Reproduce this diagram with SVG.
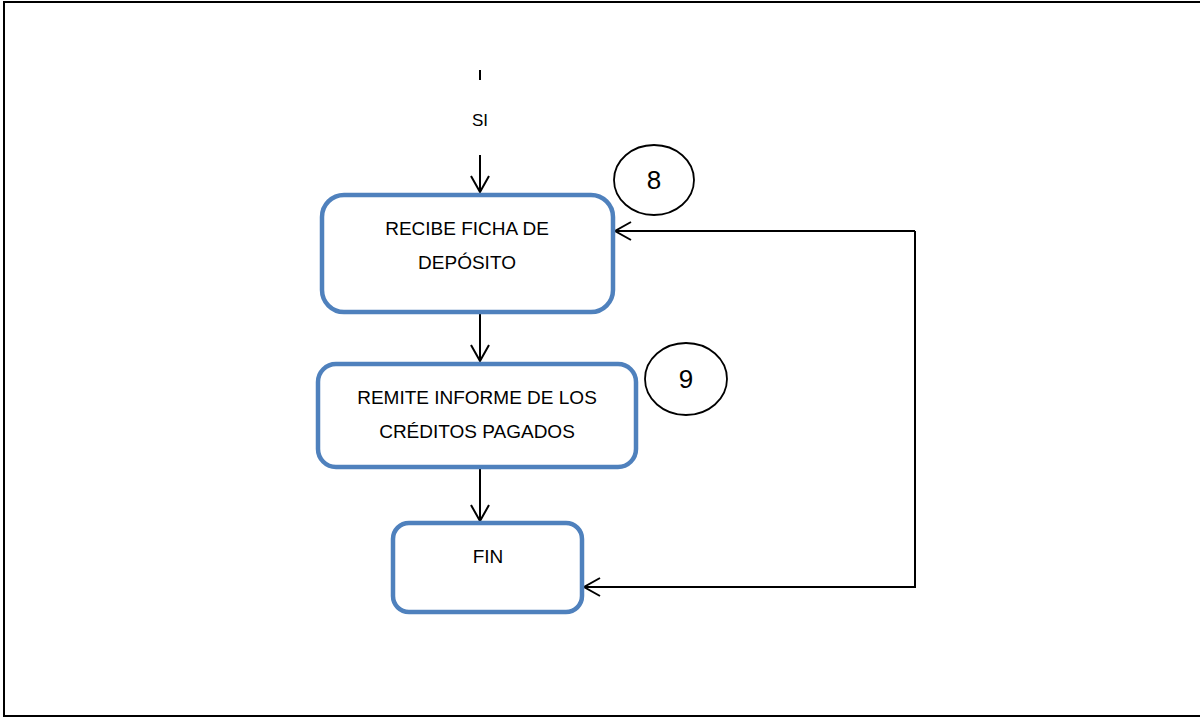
<svg xmlns="http://www.w3.org/2000/svg" width="1200" height="719" viewBox="0 0 1200 719">
  <defs>
    <style>
      .frame { fill: none; stroke: #000; stroke-width: 2; }
      .step { fill: #fff; stroke: #4f81bd; stroke-width: 4.5; }
      .badge { fill: #fff; stroke: #000; stroke-width: 1.8; }
      .lbl { font-family: "Liberation Sans", Arial, sans-serif; font-size: 19px; fill: #000; text-anchor: middle; }
      .num { font-family: "Liberation Sans", Arial, sans-serif; font-size: 26px; fill: #000; text-anchor: middle; }
      .wire { fill: none; stroke: #000; stroke-width: 2; }
    </style>
    <marker id="arrow" viewBox="0 0 20 20" refX="18" refY="10" markerWidth="20" markerHeight="20" markerUnits="userSpaceOnUse" orient="auto">
      <path d="M2,1 L18,10 L2,19" fill="none" stroke="#000" stroke-width="2"/>
    </marker>
  </defs>

  <rect id="page" class="frame" x="4" y="2" width="1210" height="714"/>

  <g id="connectors">
    <line class="wire" x1="480" y1="70" x2="480" y2="80"/>
    <text class="lbl" x="480" y="126" style="font-size:17px">SI</text>
    <line class="wire" x1="480" y1="155" x2="480" y2="192" marker-end="url(#arrow)"/>
    <line class="wire" x1="480" y1="313" x2="480" y2="361" marker-end="url(#arrow)"/>
    <line class="wire" x1="480" y1="469" x2="480" y2="521" marker-end="url(#arrow)"/>
    <polyline class="wire" points="915,231 915,587 584,587" marker-end="url(#arrow)"/>
    <line class="wire" x1="915" y1="231" x2="615" y2="231" marker-end="url(#arrow)"/>
  </g>

  <g id="recibe">
    <rect class="step" x="322" y="195" width="291" height="117" rx="22"/>
    <text class="lbl" x="467" y="235">RECIBE FICHA DE</text>
    <text class="lbl" x="467" y="269">DEPÓSITO</text>
  </g>

  <g id="badge8">
    <ellipse class="badge" cx="654" cy="180" rx="40" ry="35"/>
    <text class="num" x="654" y="189">8</text>
  </g>

  <g id="remite">
    <rect class="step" x="318" y="364" width="318" height="103" rx="18"/>
    <text class="lbl" x="477" y="404">REMITE INFORME DE LOS</text>
    <text class="lbl" x="477" y="438">CRÉDITOS PAGADOS</text>
  </g>

  <g id="badge9">
    <ellipse class="badge" cx="686" cy="379" rx="41" ry="36"/>
    <text class="num" x="686" y="388">9</text>
  </g>

  <g id="fin">
    <rect class="step" x="393" y="523" width="189" height="89" rx="16"/>
    <text class="lbl" x="488" y="563">FIN</text>
  </g>
</svg>
